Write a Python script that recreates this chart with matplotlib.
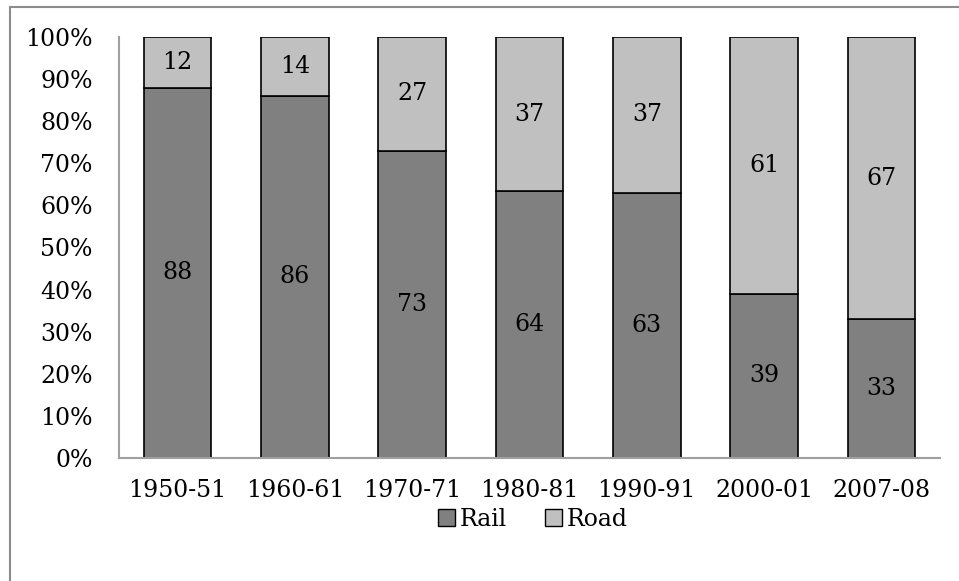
import matplotlib
matplotlib.use("Agg")
import matplotlib.pyplot as plt
from matplotlib.lines import Line2D
from matplotlib.patches import Patch
import numpy as np

categories = ["1950-51", "1960-61", "1970-71", "1980-81", "1990-91", "2000-01", "2007-08"]
rail = [88, 86, 73, 64, 63, 39, 33]
road = [12, 14, 27, 37, 37, 61, 67]
yticks = [0, 10, 20, 30, 40, 50, 60, 70, 80, 90, 100]

plt.rcParams['font.family'] = ['DejaVu Serif']
FS = 17

fig = plt.figure(figsize=(9.59, 5.81), dpi=100)
ax = fig.add_axes([119/959, 1-458/581, (940-119)/959, (458-37)/581])

rail_a = np.array(rail, float)
road_a = np.array(road, float)
tot = rail_a + road_a
rail_p = rail_a / tot * 100
road_p = road_a / tot * 100
x = np.arange(len(categories))
w = 0.575
ax.bar(x, rail_p, w, color="#808080", edgecolor="black", linewidth=1.2, label="Rail")
ax.bar(x, road_p, w, bottom=rail_p, color="#C0C0C0", edgecolor="black", linewidth=1.2, label="Road")
for i in range(len(categories)):
    ax.text(x[i], rail_p[i] / 2, str(rail[i]), ha="center", va="center", fontsize=FS)
    ax.text(x[i], rail_p[i] + road_p[i] / 2, str(road[i]), ha="center", va="center", fontsize=FS)

ax.set_xlim(-0.5, len(categories) - 0.5)
ax.set_ylim(0, 100)
ax.set_yticks(yticks)
ax.set_yticklabels([f"{v}%" for v in yticks], fontsize=FS)
ax.set_xticks(x)
ax.set_xticklabels(categories, fontsize=FS)
ax.tick_params(axis="y", length=0, pad=19)
ax.tick_params(axis="x", length=0, pad=15)
for s in ["top", "right"]:
    ax.spines[s].set_visible(False)
for s in ["left", "bottom"]:
    ax.spines[s].set_color("#A0A0A0")
    ax.spines[s].set_linewidth(1.5)

handles = [Patch(facecolor="#808080", edgecolor="black", label="Rail"),
           Patch(facecolor="#C0C0C0", edgecolor="black", label="Road")]
fig.legend(handles=handles, loc="center", bbox_to_anchor=(533/959, 1-519/581), ncol=2,
           frameon=False, fontsize=FS, handlelength=0.72, handleheight=0.72,
           handletextpad=0.2, columnspacing=1.6)

fig.add_artist(Line2D([9.5/959, 9.5/959], [0, 1-7/581], color="#8C8C8C", lw=1.5))
fig.add_artist(Line2D([9.5/959, 1], [1-7/581, 1-7/581], color="#8C8C8C", lw=1.5))

fig.savefig("out.png", dpi=100)
